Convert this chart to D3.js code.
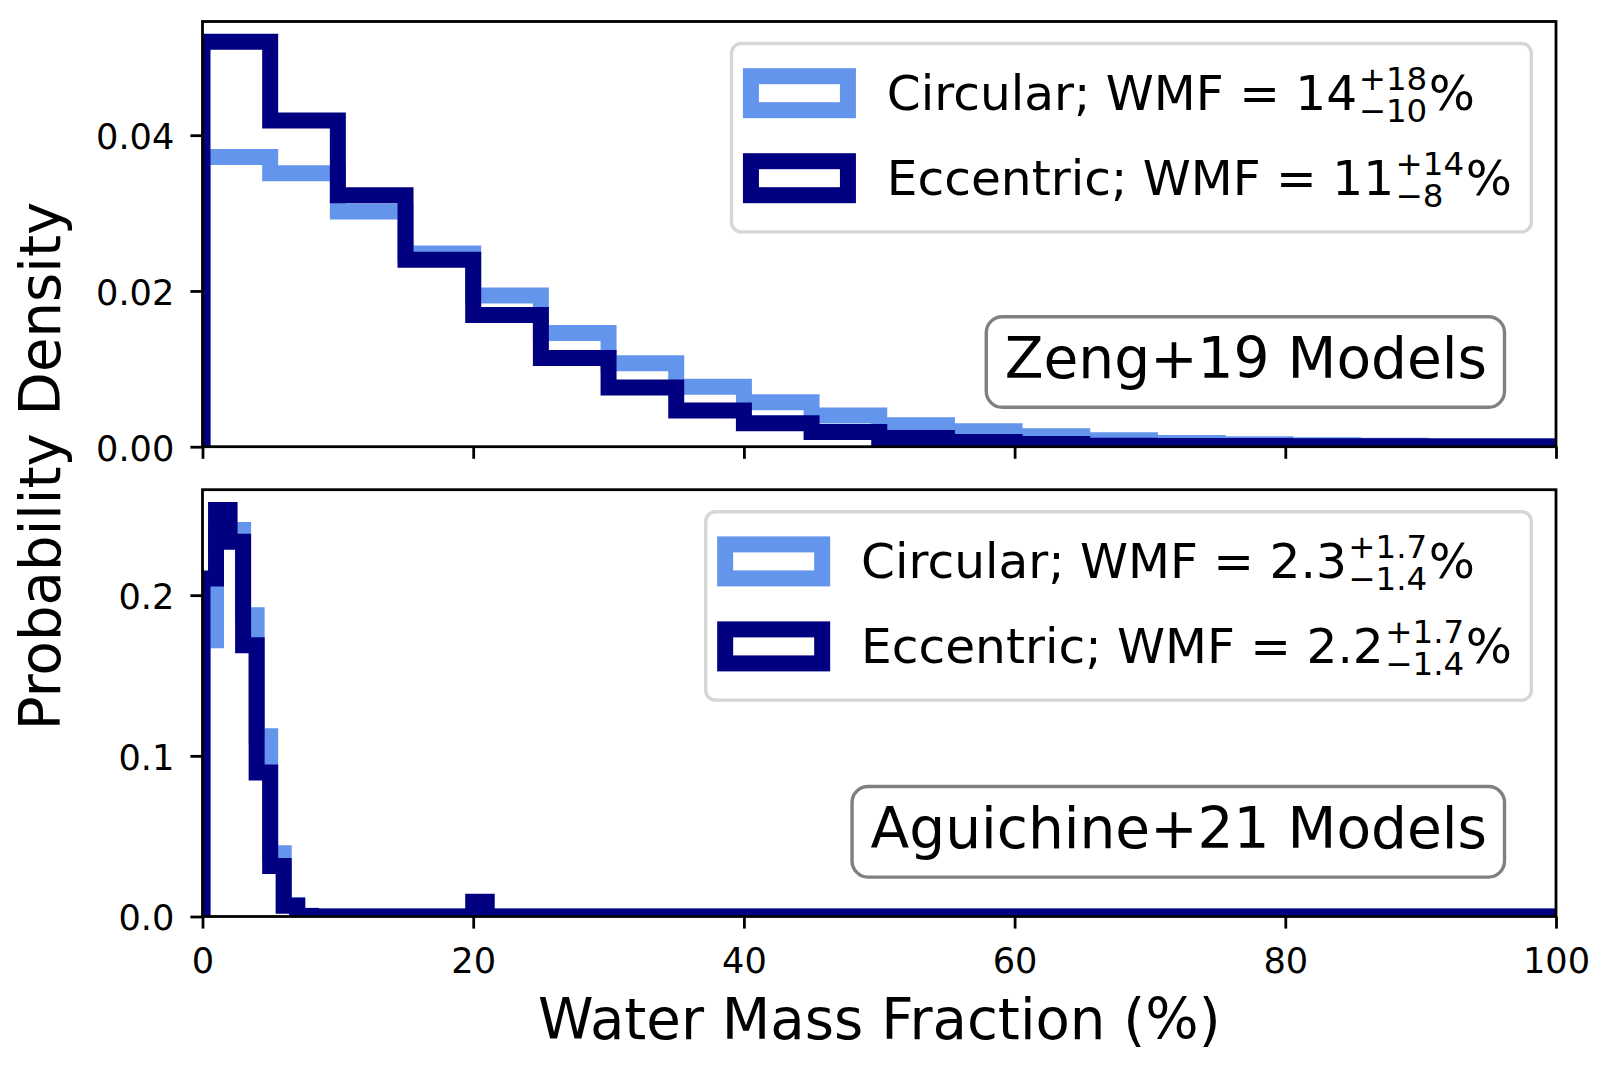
<!DOCTYPE html>
<html><head><meta charset="utf-8">
<script src="https://cdn.jsdelivr.net/npm/d3@7"></script>
<style>body{margin:0;background:#fff;} svg{display:block;font-family:"DejaVu Sans",sans-serif;}</style>
</head><body><svg id="c" width="1605" height="1073"></svg>
<script>
// ---------------- data ----------------
const seriesNames = ["Circular", "Eccentric"];
const seriesColors = ["#6495ED", "#000080"];

// Zeng+19 panel: 20 bins of width 5 (%), probability density
const zengBinWidth = 5;
const zengCircular = [0.0372, 0.0351, 0.0302, 0.0248, 0.0194, 0.0146, 0.0107, 0.0077, 0.0057, 0.0040,
                      0.00275, 0.0020, 0.00133, 0.00082, 0.00047, 0.0003, 0.0002, 0.00012, 0.0001, 0.00005];
const zengEccentric = [0.0520, 0.0419, 0.0323, 0.0240, 0.0169, 0.0114, 0.0076, 0.00465, 0.0030, 0.0019,
                       0.00112, 0.0006, 0.00035, 0.00013, 0.0001, 0.00008, 0.00006, 0.00005, 0.00004, 0.00003];

// Aguichine+21 panel: 100 bins of width 1 (%)
const aguBinWidth = 1;
const aguCircular = [0.172, 0.238, 0.2405, 0.1875, 0.1122, 0.0394, 0.0072, 0.0004, 0, 0,
                     0, 0, 0, 0, 0, 0, 0, 0, 0, 0,
                     0, 0, 0, 0, 0, 0, 0, 0, 0, 0,
                     0, 0, 0, 0, 0, 0, 0, 0, 0, 0,
                     0, 0, 0, 0, 0, 0, 0, 0, 0, 0,
                     0, 0, 0, 0, 0, 0, 0, 0, 0, 0,
                     0, 0, 0, 0, 0, 0, 0, 0, 0, 0,
                     0, 0, 0, 0, 0, 0, 0, 0, 0, 0,
                     0, 0, 0, 0, 0, 0, 0, 0, 0, 0,
                     0, 0, 0, 0, 0, 0, 0, 0, 0, 0];
const aguEccentric = [0.2104, 0.2530, 0.2332, 0.1688, 0.0897, 0.0315, 0.0067, 0.0003, 0, 0,
                      0, 0, 0, 0, 0, 0, 0, 0, 0, 0,
                      0.0092, 0, 0, 0, 0, 0, 0, 0, 0, 0,
                      0, 0, 0, 0, 0, 0, 0, 0, 0, 0,
                      0, 0, 0, 0, 0, 0, 0, 0, 0, 0,
                      0, 0, 0, 0, 0, 0, 0, 0, 0, 0,
                      0, 0, 0, 0, 0, 0, 0, 0, 0, 0,
                      0, 0, 0, 0, 0, 0, 0, 0, 0, 0,
                      0, 0, 0, 0, 0, 0, 0, 0, 0, 0,
                      0, 0, 0, 0, 0, 0, 0, 0, 0, 0];

const xTicks = [0, 20, 40, 60, 80, 100];
const zengYTicks = [0, 0.02, 0.04];
const aguYTicks = [0, 0.1, 0.2];

const zengLegend = [
  {base: "Circular; WMF = 14", sup: "+18", sub: "\u221210"},
  {base: "Eccentric; WMF = 11", sup: "+14", sub: "\u22128"}
];
const aguLegend = [
  {base: "Circular; WMF = 2.3", sup: "+1.7", sub: "\u22121.4"},
  {base: "Eccentric; WMF = 2.2", sup: "+1.7", sub: "\u22121.4"}
];
const modelLabels = ["Zeng+19 Models", "Aguichine+21 Models"];
const xLabel = "Water Mass Fraction (%)";
const yLabel = "Probability Density";

// ---------------- layout ----------------
const svg = d3.select("#c");
const L = 202.5, R = 1556;
const TICK_FS = 35.2, LEG_FS = 48.6, LAB_FS = 56.2, BOX_FS = 56.6, SCRIPT_FS = 32.5;
const LW = 16;

const panels = [
  {top: 21.5, bottom: 446.7, series: [zengCircular, zengEccentric], bw: zengBinWidth,
   yTicks: zengYTicks, fmt: d3.format(".2f"), legend: zengLegend, label: modelLabels[0], showX: false},
  {top: 489.7, bottom: 916.5, series: [aguCircular, aguEccentric], bw: aguBinWidth,
   yTicks: aguYTicks, fmt: d3.format(".1f"), legend: aguLegend, label: modelLabels[1], showX: true}
];

const x = d3.scaleLinear().domain([0, 100]).range([L, R]);

panels.forEach((p, pi) => {
  const ymax = d3.max(p.series.flat()) * 1.05;
  const y = d3.scaleLinear().domain([0, ymax]).range([p.bottom, p.top]);
  const g = svg.append("g");

  const clipId = "clip" + pi;
  svg.append("clipPath").attr("id", clipId).append("rect")
    .attr("x", L).attr("y", p.top).attr("width", R - L).attr("height", p.bottom - p.top);

  const line = d3.line().x(d => x(d[0])).y(d => y(d[1]));
  p.series.forEach((vals, si) => {
    const pts = [[0, 0]];
    vals.forEach((v, i) => { pts.push([i * p.bw, v]); pts.push([(i + 1) * p.bw, v]); });
    pts.push([vals.length * p.bw, 0]);
    g.append("path").attr("d", line(pts))
      .attr("fill", "none").attr("stroke", seriesColors[si]).attr("stroke-width", LW)
      .attr("stroke-linejoin", "miter").attr("stroke-miterlimit", 10)
      .attr("clip-path", `url(#${clipId})`);
  });

  // axes
  const xa = d3.axisBottom(x).tickValues(xTicks).tickSize(12.1).tickSizeOuter(0).tickPadding(12)
    .tickFormat(p.showX ? d3.format("d") : () => "");
  const xg = svg.append("g").attr("transform", `translate(0,${p.bottom})`).call(xa);
  const ya = d3.axisLeft(y).tickValues(p.yTicks).tickSize(12.1).tickSizeOuter(0).tickPadding(16)
    .tickFormat(p.fmt);
  const yg = svg.append("g").attr("transform", `translate(${L},0)`).call(ya);
  [xg, yg].forEach(ag => {
    ag.select(".domain").remove();
    ag.selectAll(".tick line").attr("stroke", "#000").attr("stroke-width", 2.8);
    ag.selectAll(".tick text").attr("fill", "#000").attr("font-size", TICK_FS)
      .attr("font-family", "DejaVu Sans");
  });
  xg.selectAll(".tick text").attr("dy", null).attr("y", 56.5);
  yg.selectAll(".tick text").attr("dy", "0.38em");

  // spines
  svg.append("rect").attr("x", L).attr("y", p.top).attr("width", R - L).attr("height", p.bottom - p.top)
    .attr("fill", "none").attr("stroke", "#000").attr("stroke-width", 2.8);

  // legend
  const lg = svg.append("g");
  const pad = 19.4, hl = 97, hh = 34, htp = 38.9;
  const frame = lg.append("rect");
  let maxRight = 0;
  p.legend.forEach((item, i) => {
    const cy = 49.7 + i * 85;
    lg.append("rect").attr("x", pad).attr("y", cy - hh / 2).attr("width", hl).attr("height", hh)
      .attr("fill", "none").attr("stroke", seriesColors[i]).attr("stroke-width", LW);
    const tx = pad + hl + htp, base = cy + 16.3;
    const t1 = lg.append("text").attr("x", tx).attr("y", base).attr("font-size", LEG_FS).text(item.base);
    const w1 = t1.node().getComputedTextLength();
    const sx = tx + w1 + 1.5;
    const ts = lg.append("text").attr("x", sx).attr("y", base - 20).attr("font-size", SCRIPT_FS).text(item.sup);
    const tb = lg.append("text").attr("x", sx).attr("y", base + 12.6).attr("font-size", SCRIPT_FS).text(item.sub);
    const sw = Math.max(ts.node().getComputedTextLength(), tb.node().getComputedTextLength());
    const tp = lg.append("text").attr("x", sx + sw + 1.5).attr("y", base).attr("font-size", LEG_FS).text("%");
    maxRight = Math.max(maxRight, sx + sw + 1.5 + tp.node().getComputedTextLength());
  });
  const fw = maxRight + pad, fh = 188.4;
  frame.attr("x", 0).attr("y", 0).attr("width", fw).attr("height", fh).attr("rx", 9.7)
    .attr("fill", "#fff").attr("fill-opacity", 0.8).attr("stroke", "#d6d6d6").attr("stroke-width", 3.4);
  lg.attr("transform", `translate(${R - 24.7 - fw},${p.top + 22})`);

  // model label box
  const bg = svg.append("g");
  const bbox = bg.append("rect");
  const bt = bg.append("text").attr("x", 1487).attr("y", p.bottom - 68.4).attr("text-anchor", "end")
    .attr("font-size", BOX_FS).text(p.label);
  const bw = bt.node().getComputedTextLength();
  const by = p.bottom - 68.4;
  bbox.attr("x", 1487 - bw - 18.5).attr("y", by - 61.6).attr("width", bw + 18.5 + 17.5).attr("height", 90.6)
    .attr("rx", 16).attr("fill", "#fff").attr("fill-opacity", 0.5).attr("stroke", "#808080").attr("stroke-width", 3.4);
});

// axis labels
svg.append("text").attr("x", (L + R) / 2).attr("y", 1039).attr("text-anchor", "middle")
  .attr("font-size", LAB_FS).text(xLabel);
svg.append("text").attr("transform", "translate(60,466) rotate(-90)").attr("text-anchor", "middle")
  .attr("font-size", LAB_FS).text(yLabel);
</script>
</body></html>
